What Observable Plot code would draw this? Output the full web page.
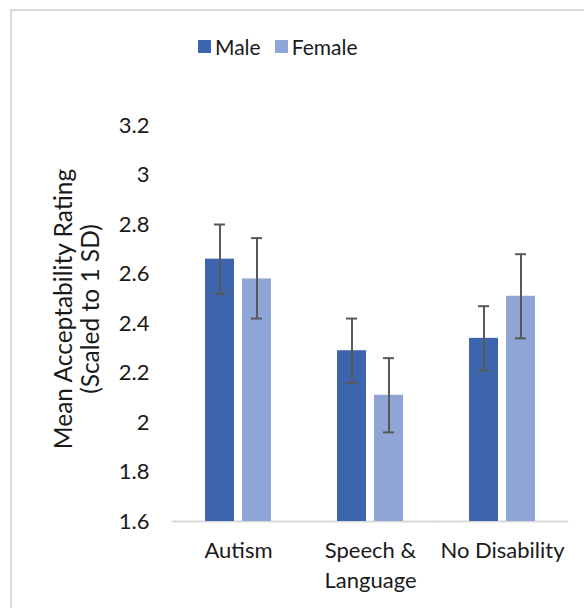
<!DOCTYPE html>
<html>
<head>
<meta charset="utf-8">
<script src="https://cdn.jsdelivr.net/npm/d3@7"></script>
<script src="https://cdn.jsdelivr.net/npm/@observablehq/plot@0.6"></script>
<style>
  html, body { margin: 0; padding: 0; background: #fff; }
  #wrap { position: relative; width: 584px; height: 608px; overflow: hidden; font-family: Lato, "Open Sans", sans-serif; color: #1a1a1a; }
  #border { position: absolute; left: 10px; top: 9px; width: 600px; height: 700px; border-top: 2px solid #d9d9d9; border-left: 2px solid #d9d9d9; }
  #legend { position: absolute; left: 198px; top: 34px; display: flex; align-items: center; font-size: 21px; }
  .item { display: flex; align-items: center; margin-right: 14px; }
  .sw { width: 13px; height: 13px; margin-right: 4px; }
  #ylabel { position: absolute; left: 76px; top: 309px; transform: translate(-50%, -50%) rotate(-90deg); text-align: center; font-size: 24.5px; line-height: 27px; white-space: nowrap; }
  #chart { position: absolute; left: 0; top: 0; }
</style>
</head>
<body>
<div id="wrap">
  <div id="border"></div>
  <div id="chart"></div>
  <div id="legend"></div>
  <div id="ylabel">Mean Acceptability Rating<br>(Scaled to 1 SD)</div>
</div>
<script>
const categories = ["Autism", "Speech & Language", "No Disability"];
const categoryLabels = ["Autism", "Speech &\nLanguage", "No Disability"];
const groups = ["Male", "Female"];
const maleMeans = [2.66, 2.29, 2.34];
const femaleMeans = [2.58, 2.11, 2.51];
const maleLow = [2.52, 2.16, 2.21];
const maleHigh = [2.80, 2.42, 2.47];
const femaleLow = [2.42, 1.96, 2.34];
const femaleHigh = [2.745, 2.26, 2.68];
const yTicks = [1.6, 1.8, 2.0, 2.2, 2.4, 2.6, 2.8, 3.0, 3.2];
const colors = ["#3d65ad", "#8fa5d5"];

const data = [];
categories.forEach((c, i) => {
  data.push({category: c, group: "Male", mean: maleMeans[i], lo: maleLow[i], hi: maleHigh[i]});
  data.push({category: c, group: "Female", mean: femaleMeans[i], lo: femaleLow[i], hi: femaleHigh[i]});
});

const labelOf = new Map(categories.map((c, i) => [c, categoryLabels[i]]));

const chart = Plot.plot({
  width: 584,
  height: 608,
  marginLeft: 171,
  marginRight: 15,
  marginTop: 125,
  marginBottom: 87,
  style: {fontFamily: "Lato, 'Open Sans', sans-serif", fontSize: "22px", color: "#1a1a1a", background: "transparent"},
  fx: {domain: categories, paddingInner: 0.4876, paddingOuter: 0.2438, label: null},
  x: {domain: groups, paddingInner: 0.2105, paddingOuter: 0, axis: null},
  y: {domain: [1.6, 3.2], label: null},
  color: {domain: groups, range: colors},
  marks: [
    Plot.ruleY([1.6], {stroke: "#d9d9d9", strokeWidth: 2, insetLeft: -32.4, insetRight: -32.4}),
    Plot.barY(data, {fx: "category", x: "group", y1: 1.6, y2: "mean", fill: "group"}),
    Plot.ruleX(data, {fx: "category", x: "group", y1: "lo", y2: "hi", stroke: "#595959", strokeWidth: 2}),
    Plot.tickY(data, {fx: "category", x: "group", y: "lo", stroke: "#595959", strokeWidth: 2, insetLeft: 9, insetRight: 9}),
    Plot.tickY(data, {fx: "category", x: "group", y: "hi", stroke: "#595959", strokeWidth: 2, insetLeft: 9, insetRight: 9}),
    Plot.axisY({ticks: yTicks, tickSize: 0, tickPadding: 55, tickFormat: d => d3.format("~g")(+d.toFixed(1)), fontSize: 22, label: null}),
    Plot.axisFx({anchor: "bottom", tickSize: 0, tickPadding: 15, tickFormat: d => labelOf.get(d), lineHeight: 1.36, fontSize: 22, label: null})
  ]
});
document.getElementById("chart").appendChild(chart);

const legend = document.getElementById("legend");
groups.forEach((g, i) => {
  const item = document.createElement("div");
  item.className = "item";
  const sw = document.createElement("div");
  sw.className = "sw";
  sw.style.background = colors[i];
  const t = document.createElement("span");
  t.textContent = g;
  item.appendChild(sw);
  item.appendChild(t);
  legend.appendChild(item);
});
</script>
</body>
</html>
